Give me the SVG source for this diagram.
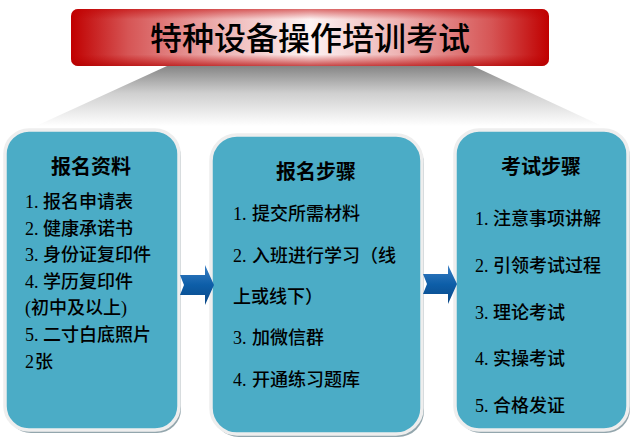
<svg xmlns="http://www.w3.org/2000/svg" width="636" height="441" viewBox="0 0 636 441">
<defs>
<linearGradient id="barH" x1="0" y1="0" x2="1" y2="0">
<stop offset="0" stop-color="#c00000"/>
<stop offset="0.12" stop-color="#d65555"/>
<stop offset="0.32" stop-color="#eeb5b5"/>
<stop offset="0.5" stop-color="#fdf3f3"/>
<stop offset="0.68" stop-color="#eeb5b5"/>
<stop offset="0.88" stop-color="#d65555"/>
<stop offset="1" stop-color="#c00000"/>
</linearGradient>
<linearGradient id="barV" x1="0" y1="0" x2="0" y2="1">
<stop offset="0" stop-color="#c00000" stop-opacity="0.55"/>
<stop offset="0.18" stop-color="#c00000" stop-opacity="0"/>
<stop offset="0.8" stop-color="#c00000" stop-opacity="0"/>
<stop offset="1" stop-color="#b00000" stop-opacity="0.7"/>
</linearGradient>
<linearGradient id="shade" x1="0" y1="0" x2="0" y2="1">
<stop offset="0" stop-color="#858585"/>
<stop offset="0.45" stop-color="#cfcfcf"/>
<stop offset="1" stop-color="#ffffff"/>
</linearGradient>
<linearGradient id="arrowG" x1="0" y1="0" x2="0" y2="1">
<stop offset="0" stop-color="#3b7fc4"/>
<stop offset="0.5" stop-color="#0d5ea8"/>
<stop offset="1" stop-color="#0a4786"/>
</linearGradient>
<style>
.box{fill:#4bacc6;stroke:#eeeeee;stroke-width:3.5}
.shadow{fill:#93a6ad}
.ttl{font-family:"Liberation Serif","Noto Sans CJK SC",serif;font-size:20px;font-weight:bold;fill:#000;text-anchor:middle}
.item{font-family:"Liberation Serif","Noto Sans CJK SC",serif;font-size:18px;font-weight:500;fill:#000}
.main{font-family:"Liberation Serif","Noto Sans CJK SC",serif;font-size:32px;font-weight:500;fill:#000;text-anchor:middle}
.arrow{fill:url(#arrowG)}
</style>
</defs>
<rect width="636" height="441" fill="#ffffff"/>
<polygon points="167,66 473,66 602,126 36,126" fill="url(#shade)"/>
<g id="title">
<rect x="71" y="9" width="478" height="57" rx="7" fill="url(#barH)"/>
<rect x="71" y="9" width="478" height="57" rx="7" fill="url(#barV)"/>
<text class="main" x="310" y="50">特种设备操作培训考试</text>
</g>
<g id="box-materials">
<rect class="shadow" x="7" y="133" width="174" height="300" rx="24"/>
<rect class="box" x="5" y="130" width="174" height="300" rx="24"/>
<text class="ttl" x="91" y="174">报名资料</text>
<text class="item" x="25" y="208">1.<tspan x="43">报名申请表</tspan></text>
<text class="item" x="25" y="235">2.<tspan x="43">健康承诺书</tspan></text>
<text class="item" x="25" y="261">3.<tspan x="43">身份证复印件</tspan></text>
<text class="item" x="25" y="288">4.<tspan x="43">学历复印件</tspan></text>
<text class="item" x="25" y="314">(初中及以上)</text>
<text class="item" x="25" y="341">5.<tspan x="43">二寸白底照片</tspan></text>
<text class="item" x="25" y="368">2<tspan x="35">张</tspan></text>
</g>
<g id="box-steps">
<rect class="shadow" x="213" y="138" width="211" height="299" rx="26"/>
<rect class="box" x="211" y="135" width="211" height="299" rx="26"/>
<text class="ttl" x="316" y="179">报名步骤</text>
<text class="item" x="233" y="220">1.<tspan x="252">提交所需材料</tspan></text>
<text class="item" x="233" y="262">2.<tspan x="252">入班进行学习（线</tspan></text>
<text class="item" x="233" y="303">上或线下）</text>
<text class="item" x="233" y="344">3.<tspan x="252">加微信群</tspan></text>
<text class="item" x="233" y="386">4.<tspan x="252">开通练习题库</tspan></text>
</g>
<g id="box-exam">
<rect class="shadow" x="457" y="133" width="173" height="300" rx="24"/>
<rect class="box" x="455" y="130" width="173" height="300" rx="24"/>
<text class="ttl" x="541" y="174">考试步骤</text>
<text class="item" x="475" y="225">1.<tspan x="493">注意事项讲解</tspan></text>
<text class="item" x="475" y="272">2.<tspan x="493">引领考试过程</tspan></text>
<text class="item" x="475" y="319">3.<tspan x="493">理论考试</tspan></text>
<text class="item" x="475" y="365">4.<tspan x="493">实操考试</tspan></text>
<text class="item" x="475" y="412">5.<tspan x="493">合格发证</tspan></text>
</g>
<g id="connectors">
<polygon class="arrow" points="180,275 205,275 205,265 214,285 205,305 205,295 180,295 184,285"/>
<polygon class="arrow" points="423,274 448,274 448,265 457,284 448,304 448,294 423,294 427,284"/>
</g>
</svg>
